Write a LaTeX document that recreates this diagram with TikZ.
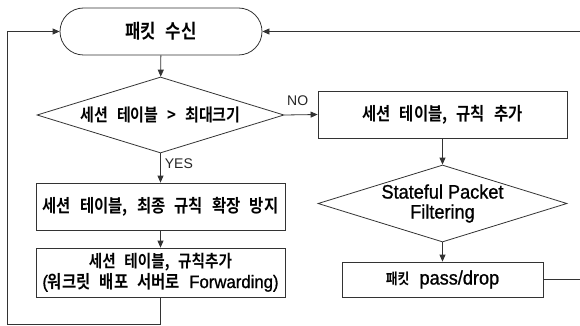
\documentclass[tikz,border=0pt]{standalone}
\usepackage{fontspec}
\setmainfont{Liberation Sans}
\newfontfamily\kfont{Noto Sans CJK KR Bold}[FakeStretch=0.86,WordSpace=2.6]
\newfontfamily\lfont{Liberation Sans}[FakeStretch=0.93,FakeBold=1]
% Korean (bold, narrowed) and Latin (narrowed) at a given size
\newcommand\K[1]{\kfont\fontsize{#1}{21}\selectfont}
\newcommand\La[1]{\lfont\fontsize{#1}{20}\selectfont}
\usetikzlibrary{shapes.geometric,arrows.meta}
\begin{document}
\begin{tikzpicture}[x=1pt,y=-1pt,
  line/.style={draw=black!80,line width=0.8pt},
  arr/.style={line,-{Triangle[length=7pt,width=6pt]}},
  box/.style={line,rectangle,inner sep=0pt,align=center},
  term/.style={box,rounded corners=23.5pt},
  decide/.style={line,diamond,inner sep=0pt,shape aspect=3.2,align=center},
  lab/.style={font=\fontsize{14}{16}\selectfont,inner sep=0pt,text=black!85}]
\useasboundingbox (0,0) rectangle (580,326);
% main flow
\node[term,minimum width=202pt,minimum height=47pt] (recv) at (161,31.5) {\K{19.5}패킷 수신};
\node[decide,minimum width=247pt,minimum height=76pt] (dec) at (160.5,115) {\K{17.5}세션 테이블 > 최대크기};
\node[box,minimum width=249pt,minimum height=47pt] (limit) at (160.5,206.5) {\K{18}세션 테이블, 최종 규칙 확장 방지};
\node[box,minimum width=249pt,minimum height=49pt,font={\K{17}\baselineskip=20.5pt}] (fwd) at (160.5,272.5)
  {세션 테이블, 규칙추가\\{\La{18}(}{\K{18}워크릿 배포 서버로 }{\La{18}Forwarding)}};
% right branch
\node[box,minimum width=249pt,minimum height=47pt] (add) at (442.5,114.5) {\K{18}세션 테이블, 규칙 추가};
\node[decide,minimum width=249pt,minimum height=77pt,font={\La{19.5}}] (spf) at (442.5,203.5)
  {Stateful Packet\\Filtering};
\node[box,minimum width=201pt,minimum height=35pt] (pd) at (442.5,279.5) {{\K{15}패킷}\hspace{10pt}{\La{19.5}pass/drop}};
% loose ends at the picture border
\coordinate (rOut) at (580,279.5);
\coordinate (rIn) at (580,31.5);
\coordinate (loop) at (7,324);
% connectors
\draw[arr] (recv) -- (dec);
\draw[arr] (dec.east) -- (add.west) node[lab,pos=0.4,above=9pt] {NO};
\draw[arr] (dec.south) -- (limit.north) node[lab,pos=0.35,right=4pt] {YES};
\draw[arr] (limit) -- (fwd);
\draw[arr] (add) -- (spf);
\draw[arr] (spf.south) -- (pd.north);
\draw[line] (pd.east) -- (rOut);
\draw[arr] (rIn) -- (recv.east);
\draw[arr] (fwd.south) |- (loop) |- (recv.west);
\end{tikzpicture}
\end{document}
